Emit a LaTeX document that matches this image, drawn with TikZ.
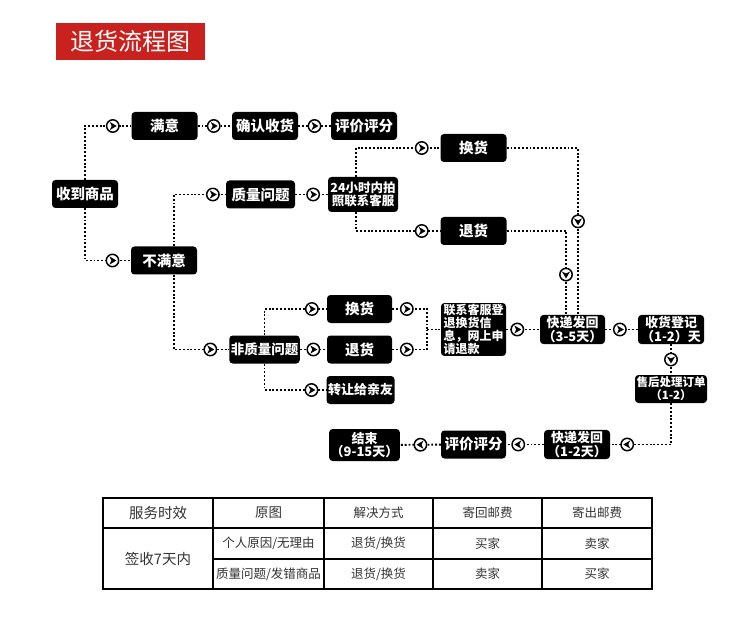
\documentclass[tikz,border=0pt]{standalone}
\usepackage{fontspec}
\usetikzlibrary{calc,arrows.meta,positioning}
\newfontfamily\cjk{Noto Sans CJK SC}
\definecolor{titlered}{HTML}{C9211E}
\definecolor{celltext}{HTML}{333333}

\begin{document}
\begin{tikzpicture}[x=1pt,y=-1pt,
  box/.style={fill=black,rounded corners=3.5pt,text=white,inner sep=1.5pt,
    minimum width=66,minimum height=28,align=center,
    font=\cjk\bfseries\fontsize{14.5}{16}\selectfont},
  twoline/.style={box,font=\cjk\bfseries\fontsize{13}{13.5}\selectfont},
  link/.style={line width=1.9pt,dash pattern=on 1.9pt off 1.9pt},
  mk/.pic={\draw[solid,line width=1.5pt,fill=white] (0,0) circle[radius=6.2];
    \fill[rotate=#1] (3.9,0) -- (-3,4.1) -- (-1.1,0) -- (-3,-4.1) -- cycle;},
  cell/.style={text=celltext,font=\cjk\fontsize{12.5}{14}\selectfont},
  bigcell/.style={cell,font=\cjk\fontsize{14.5}{16}\selectfont}]
\fill[white] (0,0) rectangle (750,639);
\useasboundingbox (0,0) rectangle (750,639);
\fill[titlered] (56,23) rectangle (205,60);
\node[text=white,font=\cjk\fontsize{24}{26}\selectfont] (title) at (130.5,41.5) {退货流程图};

\node[box] (recv) at (85,194) {收到商品};
\node[box] (satis) at (164.5,126) {满意};
\node[box] (confirm) at (265,126) {确认收货};
\node[box] (rate1) at (364,126) {评价评分};
\node[box,minimum width=69] (quality) at (260.5,194.5) {质量问题};
\node[twoline,minimum width=70,minimum height=35,font=\cjk\bfseries\fontsize{12.5}{13.5}\selectfont] (contact24) at (363,194.5) {24小时内拍\\照联系客服};
\node[box] (swapA) at (473.5,148) {换货};
\node[box] (returnA) at (473.5,231) {退货};
\node[box] (unsat) at (164,260.5) {不满意};
\node[box,minimum width=65,font=\cjk\bfseries\fontsize{13.5}{15}\selectfont] (nonq) at (264.5,349.5) {非质量问题};
\node[box,minimum width=65] (swapB) at (359.5,309) {换货};
\node[box,minimum width=65] (returnB) at (359.5,349.5) {退货};
\node[box,minimum width=65,font=\cjk\bfseries\fontsize{13}{15}\selectfont] (gift) at (360.5,390) {转让给亲友};
\node[twoline,minimum width=65,minimum height=48,align=left,
  font=\cjk\bfseries\fontsize{12}{11.5}\selectfont] (reg) at (473.5,329.5) {联系客服登\\退换货信\\息，网上申\\请退款};
\node[twoline,minimum width=65,minimum height=29] (ship35) at (572.5,329.5) {快递发回\\（3-5天）};
\node[twoline,minimum height=29] (check) at (671,329.5) {收货登记\\（1-2）天};
\node[twoline,minimum height=28,font=\cjk\bfseries\fontsize{11.5}{13}\selectfont] (after) at (671,389) {售后处理订单\\（1-2）};
\node[twoline,minimum height=28] (ship12) at (577,444.5) {快递发回\\（1-2天）};
\node[box,minimum width=65] (rate2) at (473.5,444.5) {评价评分};
\node[twoline,minimum width=65,minimum height=32] (finish) at (364.5,445) {结束\\（9-15天）};
\coordinate (merge) at (427,329.5);

\draw[link] (recv.north) |- pic[pos=.8]{mk=0} (satis.west);
\draw[link] (recv.south) |- pic[pos=.8]{mk=0} (unsat.west);
\draw[link] (satis) -- pic[pos=.47]{mk=0} (confirm);
\draw[link] (confirm) -- pic[pos=.5]{mk=0} (rate1);
\draw[link] ([xshift=10pt]unsat.north) |- pic[pos=.875]{mk=0} (quality.west);
\draw[link] ([xshift=10pt]unsat.south) |- pic[pos=.83]{mk=0} (nonq.west);
\draw[link] (quality) -- pic[pos=.55]{mk=0} (contact24);
\draw[link] ([xshift=-7pt]contact24.north) |- pic[pos=.89]{mk=0} (swapA.west);
\draw[link] ([xshift=-7pt]contact24.south) |- pic[pos=.89]{mk=0} (returnA.west);
\draw[link] (swapA.east) -| pic[pos=.72]{mk=-90} ([xshift=5.5pt]ship35.north);
\draw[link] (returnA.east) -| pic[pos=.76]{mk=-90} ([xshift=-6.5pt]ship35.north);
\draw[link] (nonq.north) |- pic[pos=.88]{mk=0} (swapB.west);
\draw[link] (nonq) -- pic[pos=.5]{mk=0} (returnB);
\draw[link] (nonq.south) |- pic[pos=.88]{mk=0} (gift.west);
\draw[link] (swapB.east) -| pic[pos=.21]{mk=0} (merge);
\draw[link] (returnB.east) -| pic[pos=.21]{mk=0} (merge);
\draw[link] (merge) -- (reg.west);
\draw[link] (reg) -- pic[pos=.33]{mk=0} (ship35);
\draw[link] (ship35) -- pic[pos=.45]{mk=0} (check);
\draw[link] (check) -- pic[pos=.5]{mk=-90} (after);
\draw[link] (after.south) |- pic[pos=.86]{mk=180} (ship12.east);
\draw[link] (ship12) -- pic[pos=.68]{mk=180} (rate2);
\draw[link] (rate2) -- pic[pos=.5]{mk=180} (finish);

\draw[line width=1.2pt] (213,498) -- (213,589) (324,498) -- (324,589)
  (433,498) -- (433,589) (542,498) -- (542,589)
  (103,528) -- (652,528) (213,559) -- (652,559);
\draw[line width=2pt] (103,498) rectangle (652,589);
\node[bigcell] (h1) at (158,513) {服务时效};
\node[cell,font=\cjk\fontsize{13.5}{15}\selectfont] (h2) at (268.5,513) {原图};
\node[cell] (h3) at (378.5,513) {解决方式};
\node[cell] (h4) at (487.5,513) {寄回邮费};
\node[cell] (h5) at (597,513) {寄出邮费};
\node[bigcell] (c1) at (158,558.5) {签收7天内};
\node[cell] (c2) at (268.5,543.5) {个人原因/无理由};
\node[cell] (c3) at (378.5,543.5) {退货/换货};
\node[cell] (c4) at (487.5,543.5) {买家};
\node[cell] (c5) at (597,543.5) {卖家};
\node[cell] (d2) at (268.5,574) {质量问题/发错商品};
\node[cell] (d3) at (378.5,574) {退货/换货};
\node[cell] (d4) at (487.5,574) {卖家};
\node[cell] (d5) at (597,574) {买家};
\end{tikzpicture}
\end{document}
